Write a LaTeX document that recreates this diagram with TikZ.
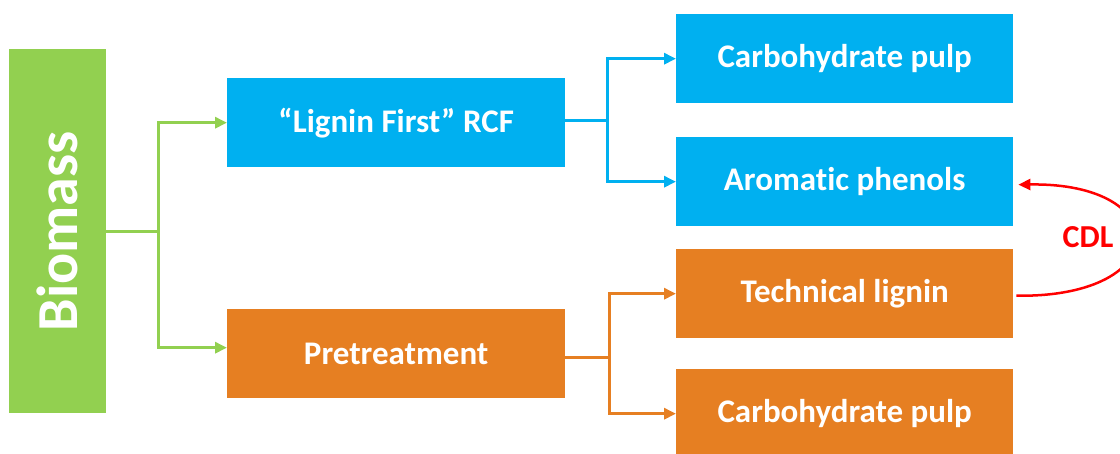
\documentclass[tikz,border=0pt]{standalone}
\usepackage{fontspec}
\setmainfont{Carlito}[Ligatures=NoCommon]
\usetikzlibrary{arrows.meta,calc}
\definecolor{cgreen}{HTML}{92D050}
\definecolor{cblue}{HTML}{00B0F0}
\definecolor{corange}{HTML}{E67F22}
\definecolor{cred}{HTML}{FF0000}
\tikzset{
  box/.style={draw=none, minimum width=338pt, minimum height=89pt, inner sep=0pt,
    text=white, font=\fontsize{33}{33}\selectfont\bfseries, anchor=north west},
  bluebox/.style={box, fill=cblue},
  orangebox/.style={box, fill=corange},
  conn/.style={line width=3pt, -{Triangle[length=12pt,width=11pt]}},
}
\begin{document}
\begin{tikzpicture}[x=1pt,y=-1pt]
\useasboundingbox (0,0) rectangle (1120,454);
\clip (0,0) rectangle (1120,454);
\node[fill=cgreen, minimum width=97pt, minimum height=364pt, inner sep=0pt, anchor=north west] (biomass) at (9,49) {};
\node[rotate=90, text=white, font=\fontsize{58}{58}\selectfont\bfseries] (biotext) at (biomass.center) {Biomass};
\node[bluebox, minimum width=338pt] (rcf) at (227,78) {“Lignin First” RCF};
\node[orangebox, minimum width=338pt] (pre) at (227,309) {Pretreatment};
\node[bluebox, minimum width=337pt] (cp1) at (676,14) {Carbohydrate pulp};
\node[bluebox, minimum width=337pt] (ap) at (676,137) {Aromatic phenols};
\node[orangebox, minimum width=337pt] (tl) at (676,249) {Technical lignin};
\node[orangebox, minimum width=337pt] (cp2) at (676,369) {Carbohydrate pulp};
\coordinate (gsplit) at (158,0);
\draw[conn, draw=cgreen] (biomass.east) -| (gsplit |- rcf.west) -- (rcf.west);
\draw[conn, draw=cgreen] (biomass.east) -| ($(gsplit |- pre.west)+(0,-6)$) -- ($(pre.west)+(0,-6)$);
\coordinate (bsplit) at (607,0);
\draw[conn, draw=cblue] ($(rcf.east)+(0,-2)$) -| (bsplit |- cp1.west) -- (cp1.west);
\draw[conn, draw=cblue] ($(rcf.east)+(0,-2)$) -| (bsplit |- ap.west) -- (ap.west);
\coordinate (osplit) at (609,0);
\draw[conn, draw=corange] ($(pre.east)+(0,4)$) -| (osplit |- tl.west) -- (tl.west);
\draw[conn, draw=corange] ($(pre.east)+(0,4)$) -| (osplit |- cp2.west) -- (cp2.west);
\draw[line width=2.5pt, draw=cred, -{Triangle[length=12pt,width=11pt]}]
  ($(tl.east)+(3,2)$) .. controls (1175,298) and (1175,182) .. ($(ap.east)+(5,3)$);
\node[text=cred, font=\fontsize{32}{32}\selectfont\bfseries] (cdl) at (1088,237) {CDL};
\end{tikzpicture}
\end{document}
